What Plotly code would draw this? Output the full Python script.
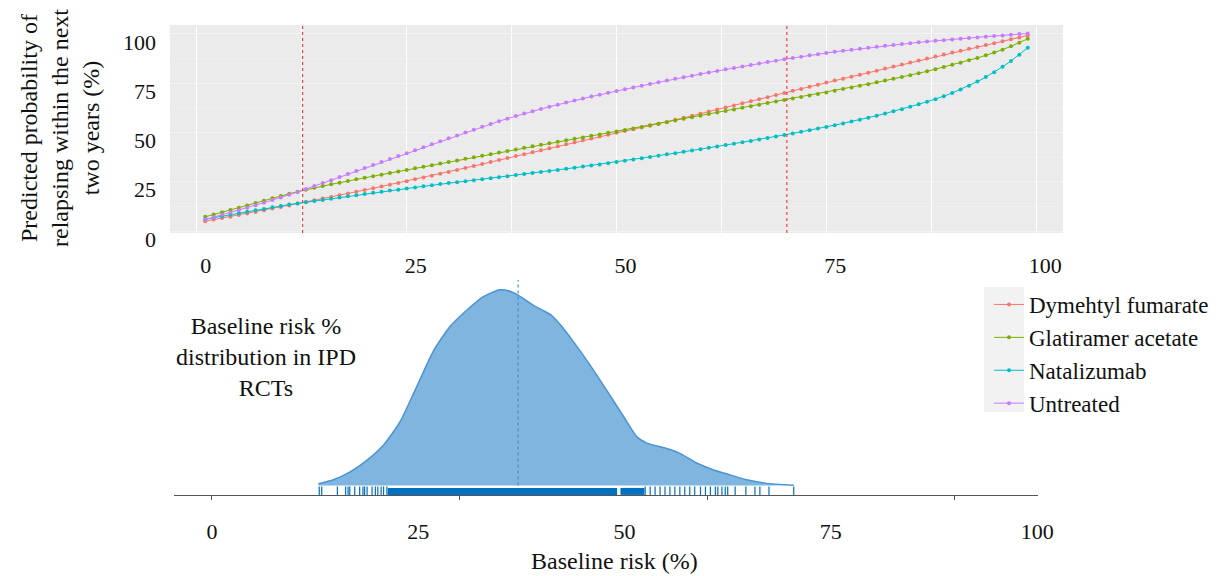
import plotly.graph_objects as go

# ---------------- data ----------------
baseline_x = list(range(1, 100))

dymethyl_fumarate = [
    5.0, 5.8, 6.6, 7.3, 8.1, 8.9, 9.7, 10.5, 11.4, 12.2,
    13.0, 13.9, 14.7, 15.6, 16.5, 17.3, 18.2, 19.0, 19.9, 20.8,
    21.7, 22.6, 23.5, 24.4, 25.3, 26.2, 27.2, 28.1, 29.1, 30.0,
    31.0, 32.0, 33.0, 34.0, 35.0, 36.0, 37.0, 38.0, 39.0, 40.0,
    41.0, 42.0, 43.0, 44.0, 45.0, 46.0, 46.9, 47.9, 48.8, 49.8,
    50.7, 51.6, 52.5, 53.4, 54.3, 55.3, 56.4, 57.4, 58.5, 59.5,
    60.6, 61.6, 62.7, 63.7, 64.8, 65.8, 66.9, 67.9, 69.0, 70.0,
    71.1, 72.1, 73.2, 74.2, 75.3, 76.3, 77.3, 78.3, 79.3, 80.3,
    81.3, 82.4, 83.4, 84.5, 85.5, 86.5, 87.5, 88.5, 89.5, 90.5,
    91.5, 92.4, 93.4, 94.3, 95.3, 96.3, 97.3, 98.2, 99.2]

glatiramer_acetate = [
    7.2, 8.4, 9.5, 10.7, 11.8, 13.0, 14.2, 15.4, 16.6, 17.8,
    18.9, 19.9, 20.9, 21.9, 22.8, 23.7, 24.5, 25.4, 26.2, 27.0,
    27.8, 28.6, 29.4, 30.2, 31.0, 31.8, 32.6, 33.4, 34.2, 35.0,
    35.8, 36.6, 37.4, 38.2, 39.0, 39.8, 40.6, 41.4, 42.2, 43.0,
    43.8, 44.5, 45.3, 46.0, 46.8, 47.5, 48.3, 49.0, 49.8, 50.5,
    51.3, 52.0, 52.8, 53.6, 54.4, 55.2, 56.0, 56.9, 57.7, 58.5,
    59.3, 60.1, 60.9, 61.7, 62.5, 63.3, 64.1, 64.9, 65.7, 66.5,
    67.2, 68.0, 68.8, 69.5, 70.3, 71.1, 72.0, 72.8, 73.7, 74.5,
    75.4, 76.3, 77.2, 78.1, 79.0, 80.0, 81.0, 82.1, 83.2, 84.3,
    85.4, 86.6, 87.8, 89.1, 90.5, 92.0, 93.7, 95.5, 97.5]

natalizumab = [
    6.0, 6.8, 7.5, 8.3, 9.0, 9.8, 10.5, 11.2, 12.0, 12.7,
    13.4, 14.0, 14.6, 15.2, 15.8, 16.4, 17.0, 17.6, 18.2, 18.8,
    19.4, 19.9, 20.5, 21.0, 21.6, 22.1, 22.7, 23.2, 23.8, 24.3,
    24.8, 25.3, 25.8, 26.3, 26.8, 27.3, 27.8, 28.4, 28.9, 29.4,
    29.9, 30.5, 31.0, 31.6, 32.1, 32.7, 33.3, 33.8, 34.4, 35.0,
    35.6, 36.3, 36.9, 37.6, 38.2, 38.9, 39.5, 40.2, 40.8, 41.5,
    42.2, 42.9, 43.6, 44.3, 45.0, 45.7, 46.4, 47.2, 47.9, 48.7,
    49.5, 50.3, 51.1, 52.0, 52.8, 53.7, 54.6, 55.6, 56.5, 57.5,
    58.5, 59.6, 60.7, 61.8, 63.0, 64.3, 65.6, 66.9, 68.4, 70.0,
    71.8, 73.7, 75.8, 78.1, 80.5, 83.3, 86.2, 89.4, 93.0]

untreated = [
    5.8, 7.0, 8.2, 9.3, 10.5, 11.8, 13.1, 14.4, 15.7, 17.0,
    18.4, 19.8, 21.3, 22.8, 24.3, 25.8, 27.4, 28.9, 30.5, 32.0,
    33.5, 35.0, 36.5, 38.0, 39.5, 41.0, 42.5, 44.0, 45.5, 47.0,
    48.5, 50.0, 51.4, 52.9, 54.3, 55.7, 57.0, 58.3, 59.6, 60.8,
    61.9, 63.0, 64.1, 65.2, 66.2, 67.2, 68.2, 69.1, 70.1, 71.0,
    71.9, 72.8, 73.7, 74.6, 75.5, 76.3, 77.2, 78.0, 78.8, 79.6,
    80.4, 81.2, 82.0, 82.7, 83.5, 84.2, 85.0, 85.7, 86.4, 87.1,
    87.8, 88.4, 89.1, 89.7, 90.3, 90.9, 91.4, 92.0, 92.5, 93.0,
    93.5, 94.0, 94.4, 94.9, 95.3, 95.7, 96.1, 96.5, 96.8, 97.2,
    97.5, 97.9, 98.2, 98.6, 98.9, 99.2, 99.6, 99.9, 100.2]

series_names = ["Dymehtyl fumarate", "Glatiramer acetate", "Natalizumab", "Untreated"]
series_values = [dymethyl_fumarate, glatiramer_acetate, natalizumab, untreated]
series_colors = ["#F8766D", "#7CAE00", "#00BFC4", "#C77CFF"]

risk_range_lines = [12.6, 70.3]   # min / max baseline risk in IPD RCTs

# density of baseline risk in IPD RCTs
density_x = [12.9, 14.7, 16.7, 18.8, 20.8, 22.8, 24.8, 26.8, 28.8, 30.9,
             32.9, 34.9, 36.1, 37.1, 38.9, 40.1, 41.2, 42.4, 43.8, 45.8,
             47.8, 49.9, 51.5, 52.7, 55.1, 56.7, 58.8, 60.8, 62.8, 64.8,
             67.2, 70.5]
density_y = [0.0004, 0.0013, 0.0030, 0.0057, 0.0091, 0.0143, 0.0221, 0.0300, 0.0355, 0.0393,
             0.0423, 0.0438, 0.0435, 0.0426, 0.0404, 0.0392, 0.0380, 0.0356, 0.0322, 0.0270,
             0.0214, 0.0154, 0.0109, 0.0095, 0.0083, 0.0072, 0.0050, 0.0035, 0.0024, 0.0013,
             0.0005, 0.0001]
mean_risk = 37.1

rug_single = [13.0, 13.3, 15.2, 16.2, 16.5, 16.7, 17.3, 17.9, 18.3, 18.5, 18.8,
              19.4, 19.8, 20.1, 20.5, 20.8, 21.2,
              52.5, 53.1, 53.7, 54.3, 54.9, 55.5, 56.1, 56.7, 57.3, 57.9, 58.5,
              59.2, 59.8, 60.4, 61.0, 61.3, 61.8, 62.2, 62.5, 63.4, 64.7, 65.8,
              66.4, 67.5, 70.5]
rug_dense_start = [21.3, 49.5]
rug_dense_end = [49.1, 52.4]

tick_vals = [0, 25, 50, 75, 100]

# ---------------- figure ----------------
# the page body has an 8px margin, so the figure is drawn at (8, 8) in the window
OFF = 8
WIN_W, WIN_H = 1220, 576
W, H = WIN_W - OFF, WIN_H - OFF
def px_x(p):
    return (p - OFF) / W
def px_y(p):
    return (WIN_H - p) / H

SERIF = "Liberation Serif, Times New Roman, serif"
TXT = "#111111"

fig = go.Figure()

for name, vals, col in zip(series_names, series_values, series_colors):
    fig.add_trace(go.Scatter(
        x=baseline_x, y=vals, name=name, mode="lines+markers",
        line=dict(color=col, width=1),
        marker=dict(color=col, size=4),
        xaxis="x", yaxis="y", showlegend=True))

# density
fig.add_trace(go.Scatter(
    x=density_x, y=density_y, mode="lines", fill="tozeroy",
    line=dict(color="#4a94d4", width=1.5, shape="spline", smoothing=0.6),
    fillcolor="#7fb5df", xaxis="x2", yaxis="y2", showlegend=False,
    hoverinfo="skip"))

# rug
rug_y = -0.0013
fig.add_trace(go.Scatter(
    x=rug_single, y=[rug_y] * len(rug_single), mode="markers",
    marker=dict(symbol="line-ns", size=7, line=dict(color="#0070c0", width=1.2)),
    xaxis="x2", yaxis="y2", showlegend=False, hoverinfo="skip"))
for s, e in zip(rug_dense_start, rug_dense_end):
    fig.add_trace(go.Scatter(
        x=[s, e], y=[rug_y, rug_y], mode="lines",
        line=dict(color="#0070c0", width=7),
        xaxis="x2", yaxis="y2", showlegend=False, hoverinfo="skip"))

shapes = []
shapes.append(dict(type="rect", xref="x domain", yref="y domain",
                   x0=0, x1=1, y0=0, y1=1, fillcolor="#ebebeb",
                   line=dict(width=0), layer="below"))
for xv in risk_range_lines:
    shapes.append(dict(type="line", xref="x", yref="y domain",
                       x0=xv, x1=xv, y0=0, y1=1,
                       line=dict(color="#ff2020", width=1, dash="dot")))
shapes.append(dict(type="line", xref="x2", yref="y2",
                   x0=mean_risk, x1=mean_risk, y0=0, y1=0.0462,
                   line=dict(color="#3d8fd6", width=1.2, dash="dot")))
shapes.append(dict(type="rect", xref="paper", yref="paper",
                   x0=px_x(984), x1=px_x(1024), y0=px_y(412), y1=px_y(287),
                   fillcolor="#f2f2f2", line=dict(width=0), layer="below"))

annotations = [
    dict(text="Predicted probability of<br>relapsing within the next<br>two years (%)",
         x=px_x(60), y=px_y(128), xref="paper", yref="paper",
         textangle=-90, showarrow=False, font=dict(family=SERIF, size=24, color=TXT),
         xanchor="center", yanchor="middle"),
    dict(text="Baseline risk %<br>distribution in IPD<br>RCTs",
         x=px_x(266), y=px_y(357), xref="paper", yref="paper",
         showarrow=False, font=dict(family=SERIF, size=24, color=TXT),
         xanchor="center", yanchor="middle"),
    dict(text="Baseline risk (%)",
         x=px_x(614), y=px_y(561), xref="paper", yref="paper",
         showarrow=False, font=dict(family=SERIF, size=24, color=TXT),
         xanchor="center", yanchor="middle"),
]

fig.update_layout(
    width=W, height=H,
    margin=dict(l=0, r=0, t=0, b=0, autoexpand=False),
    paper_bgcolor="white", plot_bgcolor="white",
    font=dict(family=SERIF, size=22, color=TXT),
    shapes=shapes, annotations=annotations,
    legend=dict(x=px_x(989), y=px_y(283), xanchor="left", yanchor="top",
                bgcolor="rgba(0,0,0,0)", font=dict(family=SERIF, size=23, color=TXT),
                tracegroupgap=0, itemwidth=30),
    xaxis=dict(domain=[px_x(170), px_x(1063)], range=[-3.2, 103.2], automargin=False,
               tickvals=tick_vals, showgrid=True, gridcolor="white", gridwidth=1.2,
               minor=dict(dtick=12.5, tick0=0, showgrid=True, gridcolor="white", gridwidth=1),
               zeroline=False, showline=False, ticks="",
               ticklabelstandoff=17, ticklabelshift=9,
               tickfont=dict(family=SERIF, size=22, color=TXT), anchor="y"),
    yaxis=dict(domain=[px_y(233), px_y(25)], range=[-1, 104.5], automargin=False,
               tickvals=tick_vals, showgrid=True, gridcolor="#f3f3f3", gridwidth=1,
               minor=dict(dtick=12.5, tick0=0, showgrid=True, gridcolor="#efefef", gridwidth=1),
               zeroline=False, showline=False, ticks="",
               ticklabelstandoff=13, ticklabelshift=8,
               tickfont=dict(family=SERIF, size=22, color=TXT), anchor="x"),
    xaxis2=dict(domain=[px_x(174), px_x(1038)], range=[-4.6, 100.1], automargin=False,
                tickvals=tick_vals, showgrid=False, zeroline=False,
                showline=True, linecolor="#555", linewidth=1, ticks="",
                minor=dict(tickvals=[0, 30, 60, 90], ticks="outside", ticklen=4,
                           tickcolor="#555", showgrid=False),
                ticklabelstandoff=17,
                tickfont=dict(family=SERIF, size=22, color=TXT), anchor="y2"),
    yaxis2=dict(domain=[px_y(495), px_y(280)], range=[-0.0021, 0.046],
                visible=False, automargin=False, anchor="x2"),
)

fig.write_html("out.html")
